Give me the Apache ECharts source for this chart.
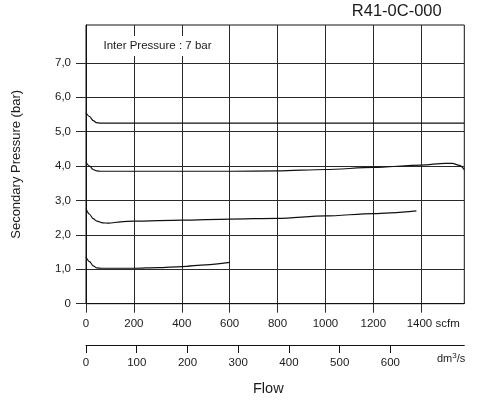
<!DOCTYPE html>
<html>
<head>
<meta charset="utf-8">
<script src="https://cdn.jsdelivr.net/npm/echarts@6/dist/echarts.min.js"></script>
<style>
  html, body { margin: 0; padding: 0; background: #fff; }
  #chart { width: 478px; height: 400px; }
</style>
</head>
<body>
<div id="chart"></div>
<script>
// Regulator flow characteristic, secondary pressure vs. flow at 7 bar inlet.
const scfmTicks = [0, 200, 400, 600, 800, 1000, 1200, 1400];
const dmTicks = [0, 100, 200, 300, 400, 500, 600];
const pressureTicks = [0, 1, 2, 3, 4, 5, 6, 7];
const scfmMax = 1580;
const scfmToDm = 0.4719;

// Setting ~5.25 bar
const flowA = [0, 15, 30, 45, 60, 100, 400, 800, 1200, 1580];
const presA = [5.55, 5.44, 5.32, 5.26, 5.25, 5.25, 5.25, 5.25, 5.25, 5.25];
// Setting ~3.85 bar
const flowB = [0, 15, 30, 45, 60, 100, 200, 400, 600, 800, 1000, 1200, 1400, 1500, 1530, 1560, 1580];
const presB = [4.11, 4.0, 3.9, 3.86, 3.85, 3.85, 3.85, 3.85, 3.85, 3.86, 3.9, 3.96, 4.03, 4.08, 4.08, 4.02, 3.9];
// Setting ~2.4 bar
const flowC = [0, 15, 30, 45, 70, 95, 145, 200, 400, 600, 800, 1000, 1200, 1380];
const presC = [2.76, 2.6, 2.47, 2.4, 2.35, 2.34, 2.38, 2.4, 2.43, 2.46, 2.48, 2.55, 2.62, 2.7];
// Setting ~1.0 bar
const flowD = [0, 15, 30, 45, 70, 200, 300, 400, 500, 600];
const presD = [1.36, 1.22, 1.1, 1.04, 1.03, 1.03, 1.05, 1.08, 1.13, 1.2];

const FONT = '"Liberation Sans", Arial, Helvetica, sans-serif';
const INK = '#1a1a1a';
const GRID = '#2a2a2a';

function pairs(xs, ys) { return xs.map((x, i) => [x, ys[i]]); }

function curve(xs, ys) {
  return {
    type: 'line',
    xAxisIndex: 0,
    yAxisIndex: 0,
    data: pairs(xs, ys),
    showSymbol: false,
    smooth: 0.3,
    smoothMonotone: 'x',
    silent: true,
    lineStyle: { color: '#111', width: 1.2 },
    z: 5
  };
}

const chart = echarts.init(document.getElementById('chart'), null, { renderer: 'canvas' });

chart.setOption({
  animation: false,
  backgroundColor: '#fff',
  textStyle: { fontFamily: FONT, color: INK },
  grid: {
    left: 86, right: 13.7, top: 25, bottom: 96.3,
    containLabel: false,
    outerBoundsMode: 'none',
    show: true,
    borderColor: '#111',
    borderWidth: 1,
    backgroundColor: 'transparent'
  },
  xAxis: [
    {
      type: 'value',
      min: 0,
      max: scfmMax,
      interval: 200,
      position: 'bottom',
      axisLine: { show: true, onZero: false, lineStyle: { color: '#111', width: 1 } },
      axisTick: { show: true, length: 9, customValues: scfmTicks, lineStyle: { color: GRID } },
      axisLabel: {
        customValues: scfmTicks,
        margin: 14,
        fontSize: 11.5,
        color: INK,
        fontFamily: FONT,
        formatter: v => v === 1400 ? '{u|1400 scfm}' : String(v),
        rich: { u: { fontSize: 11.5, color: INK, fontFamily: FONT, padding: [0, 0, 0, 24] } }
      },
      splitLine: { show: true, lineStyle: { color: GRID, width: 1 } }
    },
    {
      type: 'value',
      min: 0,
      max: scfmMax * scfmToDm,
      interval: 100,
      position: 'bottom',
      offset: 41.3,
      axisLine: { show: true, onZero: false, lineStyle: { color: '#111', width: 1 } },
      axisTick: { show: true, length: 8, customValues: dmTicks, lineStyle: { color: '#111' } },
      axisLabel: {
        customValues: dmTicks,
        margin: 12,
        fontSize: 11.5,
        color: INK,
        fontFamily: FONT
      },
      splitLine: { show: false }
    }
  ],
  yAxis: {
    type: 'value',
    min: 0,
    max: 8.1,
    interval: 1,
    name: 'Secondary Pressure (bar)',
    nameLocation: 'middle',
    nameGap: 63,
    nameTextStyle: { fontSize: 13, color: INK, fontFamily: FONT },
    axisLine: { show: true, onZero: false, lineStyle: { color: '#111', width: 1 } },
    axisTick: { show: true, length: 10, customValues: pressureTicks, lineStyle: { color: GRID } },
    axisLabel: {
      customValues: pressureTicks,
      margin: 15,
      fontSize: 11.5,
      color: INK,
      fontFamily: FONT,
      formatter: v => v === 0 ? '0' : v.toFixed(1).replace('.', ',')
    },
    splitLine: { show: true, lineStyle: { color: GRID, width: 1 } }
  },
  graphic: [
    {
      type: 'text',
      x: 441.7, y: 11.7,
      style: {
        text: 'R41-0C-000',
        fontSize: 16.5,
        fontFamily: FONT,
        fill: INK,
        align: 'right',
        verticalAlign: 'middle'
      }
    },
    {
      type: 'text',
      x: 157.5, y: 46,
      z: 10,
      style: {
        text: 'Inter Pressure : 7 bar',
        fontSize: 11.5,
        fontFamily: FONT,
        fill: INK,
        align: 'center',
        verticalAlign: 'middle',
        backgroundColor: '#fff',
        padding: [4, 6]
      }
    },
    {
      type: 'text',
      x: 437, y: 359,
      style: {
        text: '{a|dm}{b|3}{a|/s}',
        fontFamily: FONT,
        fill: INK,
        align: 'left',
        verticalAlign: 'middle',
        rich: {
          a: { fontSize: 11, lineHeight: 14, fontFamily: FONT, fill: INK, verticalAlign: 'middle' },
          b: { fontSize: 8, lineHeight: 14, fontFamily: FONT, fill: INK, verticalAlign: 'top' }
        }
      }
    },
    {
      type: 'text',
      x: 268.3, y: 389,
      style: {
        text: 'Flow',
        fontSize: 14.5,
        fontFamily: FONT,
        fill: INK,
        align: 'center',
        verticalAlign: 'middle'
      }
    }
  ],
  series: [
    curve(flowA, presA),
    curve(flowB, presB),
    curve(flowC, presC),
    curve(flowD, presD)
  ]
});
</script>
</body>
</html>
